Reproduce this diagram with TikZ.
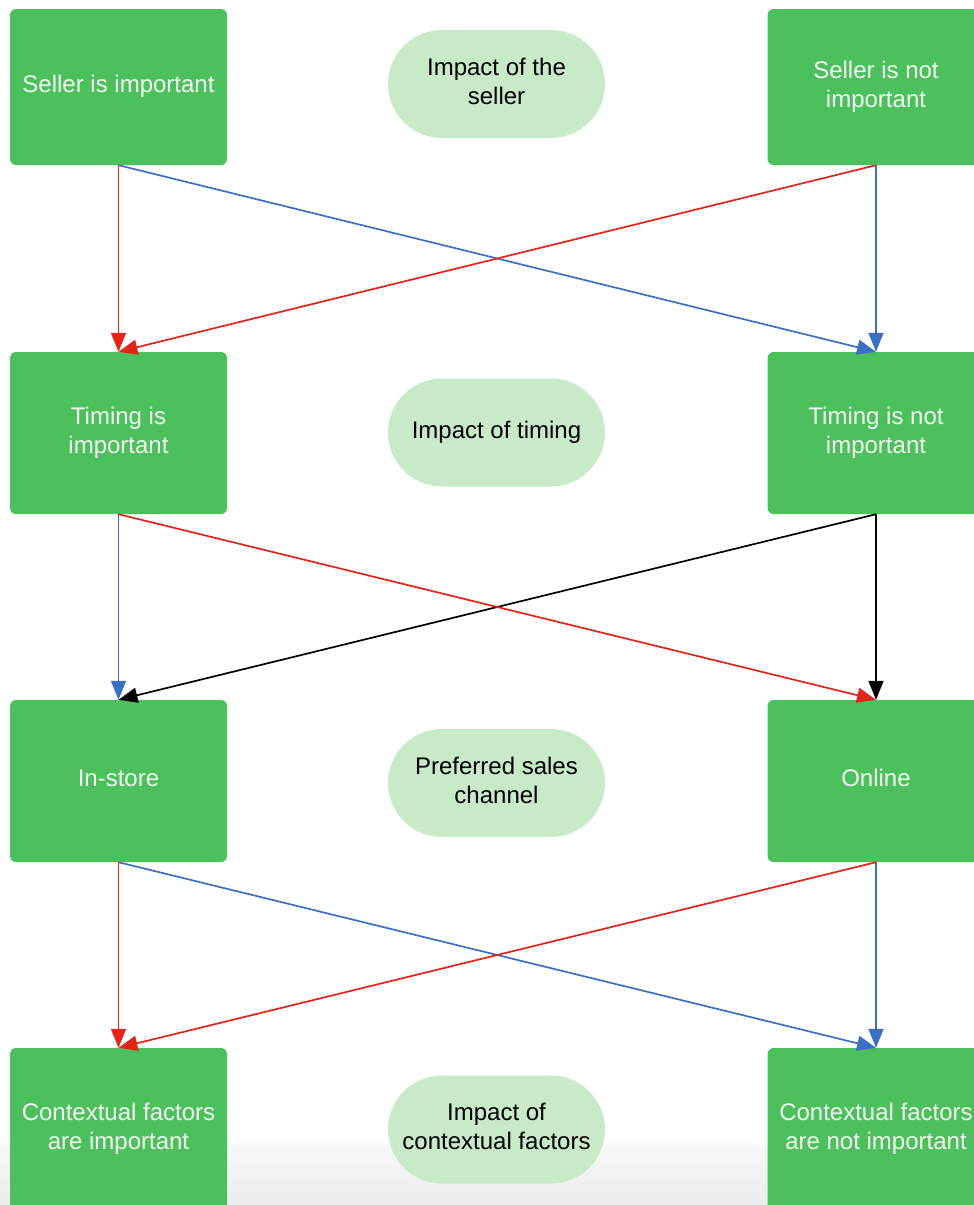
\documentclass[tikz,border=0pt]{standalone}
\usepackage{fontspec}
\setmainfont{Liberation Sans}
\usetikzlibrary{arrows.meta}
\definecolor{boxgreen}{RGB}{76,192,92}
\definecolor{ovalgreen}{RGB}{200,234,200}
\definecolor{txtwhite}{RGB}{242,250,242}
\definecolor{arrred}{RGB}{228,36,24}
\definecolor{arrblue}{RGB}{58,111,196}
\definecolor{bandtop}{RGB}{248,248,248}
\definecolor{bandbot}{RGB}{236,236,236}
\newcommand{\liftxt}[2][0pt]{\raisebox{#1}{\begin{tabular}{@{}c@{}}#2\end{tabular}}}
\tikzset{
  greenbox/.style={rectangle, rounded corners=6pt, fill=boxgreen, draw=none,
    minimum width=217pt, minimum height=162pt, text=txtwhite,
    font=\fontsize{24}{29}\selectfont, inner sep=0pt},
  oval/.style={rectangle, rounded corners=54pt, fill=ovalgreen, draw=none,
    minimum width=217pt, minimum height=108pt, text=black,
    font=\fontsize{24}{29}\selectfont, inner sep=0pt},
  conn/.style={line width=1.7pt, -{Triangle[length=19pt,width=15pt]}},
  redc/.style={conn, draw=arrred, arrred},
  bluec/.style={conn, draw=arrblue, arrblue},
  blackc/.style={conn, draw=black, black},
}
\begin{document}
\begin{tikzpicture}[x=1pt,y=-1pt]
\useasboundingbox (0,0) rectangle (974,1205);
\clip (0,0) rectangle (974,1205);
% screenshot band at the bottom
\shade[top color=bandtop, bottom color=bandbot, draw=none] (0,1143) rectangle (974,1205);

% boxes
\node[greenbox, minimum height=156pt] (A) at (118.5,87) {\liftxt[5pt]{Seller is important}};
\node[greenbox, minimum height=156pt] (B) at (876,87) {\liftxt[3pt]{Seller is not\\important}};
\node[greenbox] (C) at (118.5,433) {\liftxt[1pt]{Timing is\\important}};
\node[greenbox] (D) at (876,433) {\liftxt[1pt]{Timing is not\\important}};
\node[greenbox] (E) at (118.5,781) {\liftxt[4pt]{In-store}};
\node[greenbox] (F) at (876,781) {\liftxt[4pt]{Online}};
\node[greenbox] (G) at (118.5,1129) {\liftxt{Contextual factors\\are important}};
\node[greenbox] (H) at (876,1129) {\liftxt{Contextual factors\\are not important}};

% ovals
\node[oval] (O1) at (496.5,84) {\liftxt[3pt]{Impact of the\\seller}};
\node[oval] (O2) at (496.5,432.5) {\liftxt{Impact of timing}};
\node[oval] (O3) at (496.5,783) {\liftxt[2pt]{Preferred sales\\channel}};
\node[oval] (O4) at (496.5,1129.5) {\liftxt[3pt]{Impact of\\contextual factors}};

% row 1 -> row 2
\draw[bluec] (A.south) -- (D.north);
\draw[bluec] (B.south) -- (D.north);
\draw[redc] (A.south) -- (C.north);
\draw[redc] (B.south) -- (C.north);

% row 2 -> row 3
\draw[bluec] (C.south) -- (E.north);
\draw[blackc] (D.south) -- (E.north);
\draw[blackc] (D.south) -- (F.north);
\draw[redc] (C.south) -- (F.north);

% row 3 -> row 4
\draw[bluec] (E.south) -- (H.north);
\draw[bluec] (F.south) -- (H.north);
\draw[redc] (E.south) -- (G.north);
\draw[redc] (F.south) -- (G.north);
\end{tikzpicture}
\end{document}
